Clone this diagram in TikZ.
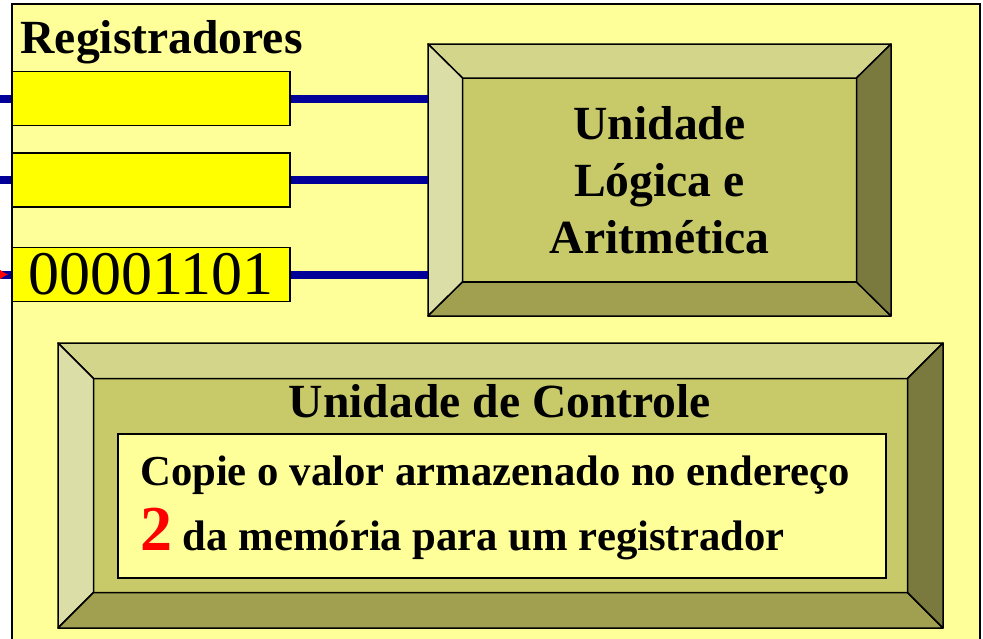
\documentclass[tikz,border=0pt]{standalone}
\usepackage{fontspec}
\setmainfont{Liberation Serif}
\usetikzlibrary{positioning}
\usetikzlibrary{arrows.meta}
\definecolor{bgyellow}{HTML}{FFFF99}
\definecolor{regyellow}{HTML}{FFFF00}
\definecolor{busblue}{HTML}{000099}
\definecolor{bvtop}{HTML}{D3D68A}
\definecolor{bvleft}{HTML}{DCDEA8}
\definecolor{bvmid}{HTML}{C8CA6A}
\definecolor{bvbottom}{HTML}{A0A050}
\definecolor{bvright}{HTML}{7A7A3E}
\newcommand{\bigfont}{\fontsize{47.6}{57}\selectfont\bfseries}
\newcommand{\midfont}{\fontsize{42.7}{65}\selectfont\bfseries}
\tikzset{reg node/.style={draw,fill=regyellow,line width=1.5pt,minimum width=278pt,minimum height=54pt,inner sep=0pt},
  bevel outer/.style={inner sep=0pt,outer sep=0pt},
  bevel inner/.style={draw,fill=bvmid,line width=1.5pt,inner sep=0pt,outer sep=0pt},
  bevel edge/.style={draw=black,line width=1.5pt,line join=round},
  bus/.style={line width=8pt,busblue},}
% faces of a bevelled box: #1 outer node, #2 inner node
\newcommand{\bevelfaces}[2]{%
  \filldraw[bevel edge,fill=bvtop] (#1.north west) -- (#1.north east) -- (#2.north east) -- (#2.north west) -- cycle;
  \filldraw[bevel edge,fill=bvleft] (#1.north west) -- (#2.north west) -- (#2.south west) -- (#1.south west) -- cycle;
  \filldraw[bevel edge,fill=bvbottom] (#1.south west) -- (#2.south west) -- (#2.south east) -- (#1.south east) -- cycle;
  \filldraw[bevel edge,fill=bvright] (#1.north east) -- (#1.south east) -- (#2.south east) -- (#2.north east) -- cycle;}
\begin{document}
\begin{tikzpicture}[x=1pt,y=-1pt]
   \useasboundingbox (0,0) rectangle (983,638);
   \draw[fill=bgyellow,line width=2pt] (12,4) rectangle (980,660);
   \coordinate (edge) at (0,0);

   % registradores
   \node[anchor=base west,font=\bigfont] (regs) at (17,53) {Registradores};
   \node[reg node] (r1) at (151,98.5) {};
   \node[reg node] (r2) [below=26pt of r1] {};
   \node[reg node] (r3) [below=39pt of r2] {\fontsize{62}{62}\selectfont 00001101};

   % ULA
   \node[bevel outer,minimum width=463pt,minimum height=272pt] (alu) at (659.5,180) {};
   \node[bevel inner,minimum width=394pt,minimum height=204pt] (alu-in) at (alu) {};
   \bevelfaces{alu}{alu-in}
   \node[align=center,font=\bigfont] (alu-text) at (alu) {Unidade\\Lógica e\\Aritmética};

   \foreach \r in {r1,r2,r3} {
     \draw[bus] (\r.east) -- (\r.east -| alu.west);
     \draw[bus] (\r.west -| edge) -- (\r.west);
   }
   \draw[red,line width=1pt,-{Latex[length=9pt,width=11pt]}] ([xshift=-20pt]r3.west -| edge) -- ([xshift=8pt]r3.west -| edge);

   % unidade de controle
   \node[bevel outer,minimum width=885pt,minimum height=285pt] (cu) at (500.5,485.5) {};
   \node[bevel inner,minimum width=814pt,minimum height=214pt] (cu-in) at (cu) {};
   \bevelfaces{cu}{cu-in}
   \node[anchor=base,font=\bigfont] (cu-title) at (500,417) {Unidade de Controle};
   \node[draw,fill=bgyellow,line width=1.5pt,minimum width=768pt,minimum height=144pt] (msg-box) at (502,506) {};
   \node[anchor=north west,align=left,inner sep=0pt,font=\midfont] (msg) at (140,456)
     {Copie o valor armazenado no endereço\\{\color{red}\fontsize{64}{65}\selectfont 2} da memória para um registrador};
\end{tikzpicture}
\end{document}
